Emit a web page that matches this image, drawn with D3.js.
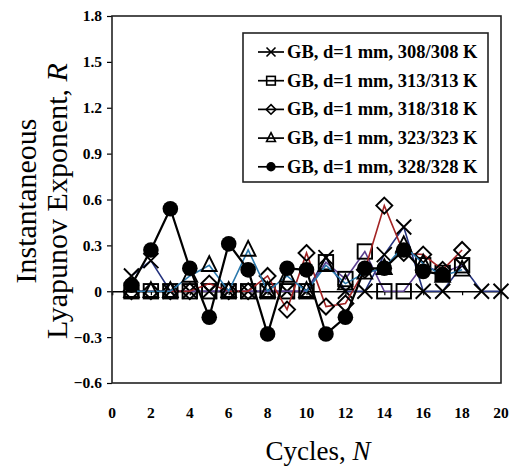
<!DOCTYPE html>
<html>
<head>
<meta charset="utf-8">
<script src="https://cdnjs.cloudflare.com/ajax/libs/d3/7.8.5/d3.min.js"></script>
<style>
  html, body { margin: 0; padding: 0; background: #fff; }
  svg { display: block; }
  text { font-family: "Liberation Serif", "DejaVu Serif", serif; fill: #000; }
</style>
</head>
<body>
<svg id="chart" width="511" height="468"></svg>
<script>
// Cycle numbers (N) and instantaneous Lyapunov exponent R for each temperature pair
const cycles = d3.range(1, 21);
const r308 = [0.10, 0.20, 0, 0, 0, 0, 0, 0, 0, 0, 0.22, 0, 0, 0.24, 0.42, 0, 0, 0.17, 0, 0];
const r313 = [0, 0, 0, 0, 0, 0, 0, 0, 0, 0, 0.19, 0.08, 0.26, 0, 0, 0.17, 0.12, 0.17];
const r318 = [0, 0, 0, 0, 0.05, 0, 0, 0.10, -0.12, 0.25, -0.10, -0.08, 0.14, 0.56, 0.25, 0.24, 0.14, 0.27];
const r323 = [0, 0, 0, 0.10, 0.17, 0, 0.27, 0, 0.10, 0, 0.17, 0.05, 0.12, 0.15, 0.30, 0.18, 0.10, 0.14];
const r328 = [0.04, 0.27, 0.54, 0.15, -0.17, 0.31, 0.14, -0.28, 0.15, 0.14, -0.28, -0.17, 0.15, 0.15, 0.27, 0.13, 0.11];

const seriesNames = ["GB, d=1 mm, 308/308 K", "GB, d=1 mm, 313/313 K", "GB, d=1 mm, 318/318 K",
                     "GB, d=1 mm, 323/323 K", "GB, d=1 mm, 328/328 K"];
const xTicks = d3.range(0, 21, 2);
const yTicks = [-0.6, -0.3, 0, 0.3, 0.6, 0.9, 1.2, 1.5, 1.8];

const series = [
  { name: seriesNames[0], values: r308, marker: "cross",    line: "#24327e", width: 1.6 },
  { name: seriesNames[1], values: r313, marker: "square",   line: "#5b3f8f", width: 1.6 },
  { name: seriesNames[2], values: r318, marker: "diamond",  line: "#a32424", width: 1.6 },
  { name: seriesNames[3], values: r323, marker: "triangle", line: "#2a78ac", width: 1.6 },
  { name: seriesNames[4], values: r328, marker: "circle",   line: "#000000", width: 2.2 }
];

const svg = d3.select("#chart");
const plotL = 112, plotR = 501, plotT = 16, plotB = 383;

const x = d3.scaleLinear().domain([0, 20]).range([plotL, plotR]);
const y = d3.scaleLinear().domain([-0.6, 1.8]).range([plotB, plotT]);

svg.append("rect").attr("width", 511).attr("height", 468).attr("fill", "#fff");

// y axis ticks and labels on the left edge of the frame
const yAxis = d3.axisLeft(y).tickValues(yTicks).tickSize(5).tickPadding(5)
  .tickFormat(d => d === 0 ? "0" : d3.format(".1f")(d));
const gy = svg.append("g").attr("transform", `translate(${plotL},0)`).call(yAxis);
gy.select(".domain").remove();
gy.selectAll("line").attr("stroke", "#000").attr("stroke-width", 1.2);
gy.selectAll("text").style("font-size", "15.5px").style("font-weight", "bold")
  .style("font-family", "Liberation Serif");

// x axis crosses at R = 0, with small ticks; labels sit below the frame
const xAxis = d3.axisBottom(x).tickValues(xTicks).tickSize(4).tickFormat("");
const gx = svg.append("g").attr("transform", `translate(0,${y(0)})`).call(xAxis);
gx.select(".domain").attr("stroke", "#000").attr("stroke-width", 1.5);
gx.selectAll("line").attr("stroke", "#000").attr("stroke-width", 1.2);

svg.append("g").selectAll("text").data(xTicks).join("text")
  .attr("x", d => x(d)).attr("y", 412)
  .attr("text-anchor", "middle").attr("dominant-baseline", "central")
  .style("font-size", "15.5px").style("font-weight", "bold")
  .text(d => d);

// plot frame
svg.append("rect").attr("x", plotL).attr("y", plotT)
  .attr("width", plotR - plotL).attr("height", plotB - plotT)
  .attr("fill", "none").attr("stroke", "#222").attr("stroke-width", 1.6);

// marker shapes
function drawMarker(g, type, cx, cy, s, sw) {
  const k = s || 1;
  const w = sw || 1.9;
  if (type === "cross") {
    const h = 7.5 * k;
    g.append("path").attr("d", `M${cx - h},${cy - h}L${cx + h},${cy + h}M${cx - h},${cy + h}L${cx + h},${cy - h}`)
      .attr("stroke", "#000").attr("stroke-width", w).attr("fill", "none");
  } else if (type === "square") {
    const h = 7.2 * k;
    g.append("rect").attr("x", cx - h).attr("y", cy - h).attr("width", 2 * h).attr("height", 2 * h)
      .attr("stroke", "#000").attr("stroke-width", w).attr("fill", "none");
  } else if (type === "diamond") {
    const h = 8 * k;
    g.append("path").attr("d", `M${cx},${cy - h}L${cx + h},${cy}L${cx},${cy + h}L${cx - h},${cy}Z`)
      .attr("stroke", "#000").attr("stroke-width", w).attr("fill", "none");
  } else if (type === "triangle") {
    const h = 8.2 * k;
    g.append("path").attr("d", `M${cx},${cy - h * 1.1}L${cx + h * 0.9},${cy + h * 0.7}L${cx - h * 0.9},${cy + h * 0.7}Z`)
      .attr("stroke", "#000").attr("stroke-width", w).attr("fill", "none");
  } else if (type === "circle") {
    g.append("circle").attr("cx", cx).attr("cy", cy).attr("r", 7.8 * k).attr("fill", "#000");
  }
}

// series lines and markers
const line = d3.line().x(d => x(d.n)).y(d => y(d.v));
series.forEach(s => {
  const pts = s.values.map((v, i) => ({ n: cycles[i], v }));
  const g = svg.append("g");
  g.append("path").attr("d", line(pts)).attr("fill", "none")
    .attr("stroke", s.line).attr("stroke-width", s.width);
  pts.forEach(p => drawMarker(g, s.marker, x(p.n), y(p.v)));
});

// legend
const lg = svg.append("g");
lg.append("rect").attr("x", 243).attr("y", 33).attr("width", 245).attr("height", 149)
  .attr("fill", "#fff").attr("stroke", "#222").attr("stroke-width", 1.6);
series.forEach((s, i) => {
  const cy = 52 + i * 28.7;
  lg.append("line").attr("x1", 258).attr("x2", 284).attr("y1", cy).attr("y2", cy)
    .attr("stroke", "#000").attr("stroke-width", 1.7);
  drawMarker(lg, s.marker, 271, cy, 0.6, 1.6);
  lg.append("text").attr("x", 287).attr("y", cy).attr("dominant-baseline", "central")
    .style("font-size", "18.5px").style("font-weight", "bold")
    .text(s.name);
});

// axis titles
svg.append("text").attr("x", 318).attr("y", 451).attr("text-anchor", "middle")
  .attr("dominant-baseline", "central").style("font-size", "27px")
  .html('Cycles, <tspan font-style="italic">N</tspan>');

const yt = svg.append("g").attr("transform", "translate(0,201) rotate(-90)");
yt.append("text").attr("x", 0).attr("y", 25).attr("text-anchor", "middle")
  .attr("dominant-baseline", "central").style("font-size", "30px").text("Instantaneous");
yt.append("text").attr("x", 0).attr("y", 56).attr("text-anchor", "middle")
  .attr("dominant-baseline", "central").style("font-size", "30px")
  .html('Lyapunov Exponent, <tspan font-style="italic">R</tspan>');
</script>
</body>
</html>
